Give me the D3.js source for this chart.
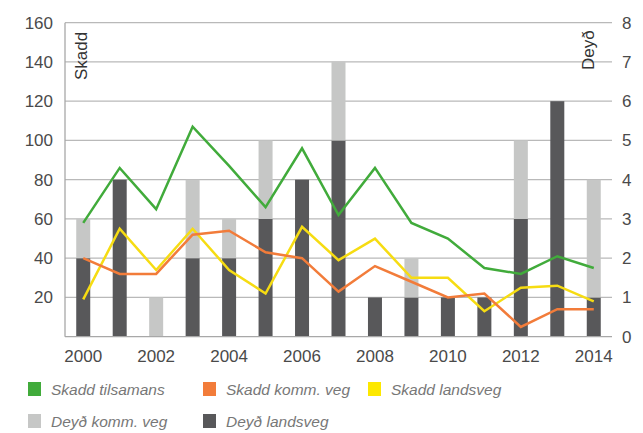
<!DOCTYPE html>
<html>
<head>
<meta charset="utf-8">
<script src="https://cdn.jsdelivr.net/npm/d3@7"></script>
<style>
    body { margin: 0; background: #fff; }
    text { font-family: "Liberation Sans", Arial, sans-serif; }
</style>
</head>
<body>
<svg width="643" height="433"></svg>
<script>
const years = [2000, 2001, 2002, 2003, 2004, 2005, 2006, 2007, 2008, 2009, 2010, 2011, 2012, 2013, 2014];
const yearLabels = [2000, 2002, 2004, 2006, 2008, 2010, 2012, 2014];
const leftTicks = [20, 40, 60, 80, 100, 120, 140, 160];
const rightTicks = [0, 1, 2, 3, 4, 5, 6, 7, 8];

// skadd (left axis)
const skaddTilsamans = [58, 86, 65, 107, 87, 66, 96, 62, 86, 58, 50, 35, 32, 41, 35];
const skaddKomm = [40, 32, 32, 52, 54, 43, 40, 23, 36, 28, 20, 22, 5, 14, 14];
const skaddLandsveg = [19, 55, 34, 55, 34, 22, 56, 39, 50, 30, 30, 13, 25, 26, 18];

// deyð (right axis)
const deydLandsveg = [2, 4, 0, 2, 2, 3, 4, 5, 1, 1, 1, 1, 3, 6, 1];
const deydKomm = [1, 0, 1, 2, 1, 2, 0, 2, 0, 1, 0, 0, 2, 0, 3];

const svg = d3.select("svg");
const plotL = 65, plotR = 612, plotT = 22.7, plotB = 336.7;

const x = d3.scalePoint().domain(years).range([plotL, plotR]).padding(0.5);
const yL = d3.scaleLinear().domain([0, 160]).range([plotB, plotT]);
const yR = d3.scaleLinear().domain([0, 8]).range([plotB, plotT]);

// gridlines
svg.append("g")
    .selectAll("line")
    .data(leftTicks)
    .enter().append("line")
    .attr("x1", plotL).attr("x2", plotR)
    .attr("y1", d => yL(d)).attr("y2", d => yL(d))
    .attr("stroke", "#b9b9b9")
    .attr("stroke-width", 1.3);

// bars
const barW = 14;
const bars = svg.append("g");
years.forEach(function (yr, i) {
    const base = deydLandsveg[i];
    if (base > 0) {
        bars.append("rect")
            .attr("x", x(yr) - barW / 2).attr("width", barW)
            .attr("y", yR(base)).attr("height", yR(0) - yR(base))
            .attr("fill", "#58585a");
    }
    if (deydKomm[i] > 0) {
        bars.append("rect")
            .attr("x", x(yr) - barW / 2).attr("width", barW)
            .attr("y", yR(base + deydKomm[i])).attr("height", yR(base) - yR(base + deydKomm[i]))
            .attr("fill", "#c6c7c6");
    }
});

// axis lines
svg.append("line")
    .attr("x1", plotL).attr("x2", plotR).attr("y1", plotB).attr("y2", plotB)
    .attr("stroke", "#a8a8a8").attr("stroke-width", 1.3);
svg.append("line")
    .attr("x1", plotL).attr("x2", plotL).attr("y1", plotT).attr("y2", plotB)
    .attr("stroke", "#a8a8a8").attr("stroke-width", 1.3);

// lines
const line = d3.line()
    .x((d, i) => x(years[i]))
    .y(d => yL(d));

[[skaddLandsveg, "#f6dc12"], [skaddKomm, "#f27c3a"], [skaddTilsamans, "#41ab3b"]].forEach(function (s) {
    svg.append("path")
        .datum(s[0])
        .attr("d", line)
        .attr("fill", "none")
        .attr("stroke", s[1])
        .attr("stroke-width", 2.5);
});

// tick labels
svg.append("g")
    .selectAll("text")
    .data(leftTicks)
    .enter().append("text")
    .attr("x", 53).attr("y", d => yL(d) + 6)
    .attr("text-anchor", "end")
    .attr("font-size", 17).attr("fill", "#4a4a4a")
    .text(d => d);

svg.append("g")
    .selectAll("text")
    .data(rightTicks)
    .enter().append("text")
    .attr("x", 622).attr("y", d => yR(d) + 6)
    .attr("font-size", 17).attr("fill", "#4a4a4a")
    .text(d => d);

svg.append("g")
    .selectAll("text")
    .data(yearLabels)
    .enter().append("text")
    .attr("x", d => x(d)).attr("y", 362)
    .attr("text-anchor", "middle")
    .attr("font-size", 17).attr("fill", "#4a4a4a")
    .text(d => d);

// axis titles
svg.append("text")
    .attr("transform", "translate(87,80) rotate(-90)")
    .attr("font-size", 17).attr("fill", "#333")
    .text("Skadd");
svg.append("text")
    .attr("transform", "translate(594,70) rotate(-90)")
    .attr("font-size", 17).attr("fill", "#333")
    .text("Deyð");

// legend
const legendItems = [
    { name: "Skadd tilsamans", color: "#41ab3b", x: 28, y: 382 },
    { name: "Skadd komm. veg", color: "#f27c3a", x: 203, y: 382 },
    { name: "Skadd landsveg", color: "#fde800", x: 368, y: 382 },
    { name: "Deyð komm. veg", color: "#c6c7c6", x: 28, y: 414 },
    { name: "Deyð landsveg", color: "#58585a", x: 203, y: 414 }
];
const lg = svg.append("g").selectAll("g")
    .data(legendItems)
    .enter().append("g")
    .attr("transform", d => "translate(" + d.x + "," + d.y + ")");
lg.append("rect")
    .attr("width", 13).attr("height", 14)
    .attr("fill", d => d.color);
lg.append("text")
    .attr("x", 23).attr("y", 13)
    .attr("font-size", 15.5).attr("font-style", "italic").attr("fill", "#777")
    .text(d => d.name);
</script>
</body>
</html>
